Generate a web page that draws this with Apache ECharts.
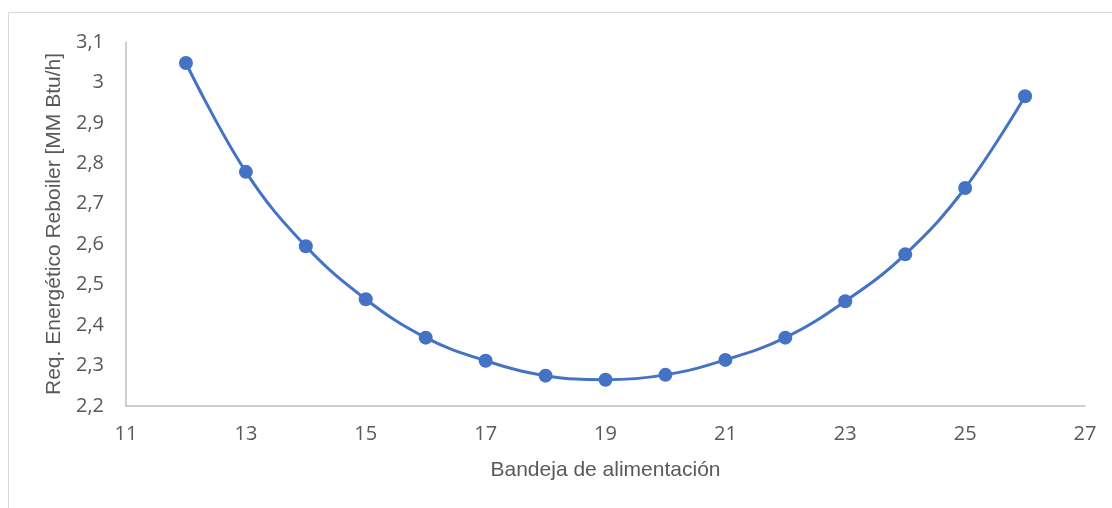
<!DOCTYPE html>
<html>
<head>
<meta charset="utf-8">
<script src="https://cdn.jsdelivr.net/npm/echarts@6/dist/echarts.min.js"></script>
<style>
  html, body { margin: 0; padding: 0; background: #fff; }
  #frame { position: absolute; left: 8px; top: 12px; width: 1120px; height: 520px; border: 1px solid #d9d9d9; box-sizing: border-box; }
  #chart { position: absolute; left: 0; top: 0; width: 1112px; height: 508px; }
</style>
</head>
<body>
<div id="frame"></div>
<div id="chart"></div>
<script>
// Feed tray position vs. reboiler energy duty
const trays = [12, 13, 14, 15, 16, 17, 18, 19, 20, 21, 22, 23, 24, 25, 26];
const duty = [3.048, 2.779, 2.595, 2.464, 2.369, 2.312, 2.275, 2.265, 2.277, 2.314, 2.369, 2.459, 2.575, 2.739, 2.966];
const xTitle = 'Bandeja de alimentación';
const yTitle = 'Req. Energético Reboiler [MM Btu/h]';

const chart = echarts.init(document.getElementById('chart'));
const tickFont = { color: '#595959', fontSize: 20, fontFamily: 'Open Sans' };
const titleFont = { color: '#595959', fontSize: 21, fontFamily: 'Liberation Sans' };

chart.setOption({
  animation: false,
  grid: { left: 126, right: 27, top: 42, bottom: 102 },
  xAxis: {
    type: 'value', min: 11, max: 27, interval: 2,
    name: xTitle, nameLocation: 'middle', nameGap: 54,
    nameTextStyle: titleFont,
    axisLine: { show: true, lineStyle: { color: '#bfbfbf', width: 1.5 } },
    axisTick: { show: false },
    splitLine: { show: false },
    axisLabel: Object.assign({ margin: 18 }, tickFont)
  },
  yAxis: {
    type: 'value', min: 2.2, max: 3.1, interval: 0.1,
    name: yTitle, nameLocation: 'middle', nameGap: 60,
    nameTextStyle: titleFont,
    axisLine: { show: true, lineStyle: { color: '#bfbfbf', width: 1.5 } },
    axisTick: { show: false },
    splitLine: { show: false },
    axisLabel: Object.assign({
      margin: 22,
      formatter: v => String(Math.round(v * 10) / 10).replace('.', ',')
    }, tickFont)
  },
  series: [{
    type: 'line',
    data: trays.map((t, i) => [t, duty[i]]),
    smooth: 0.4,
    symbol: 'circle',
    symbolSize: 14,
    lineStyle: { color: '#4472c4', width: 3 },
    itemStyle: { color: '#4472c4' }
  }]
});
</script>
</body>
</html>
